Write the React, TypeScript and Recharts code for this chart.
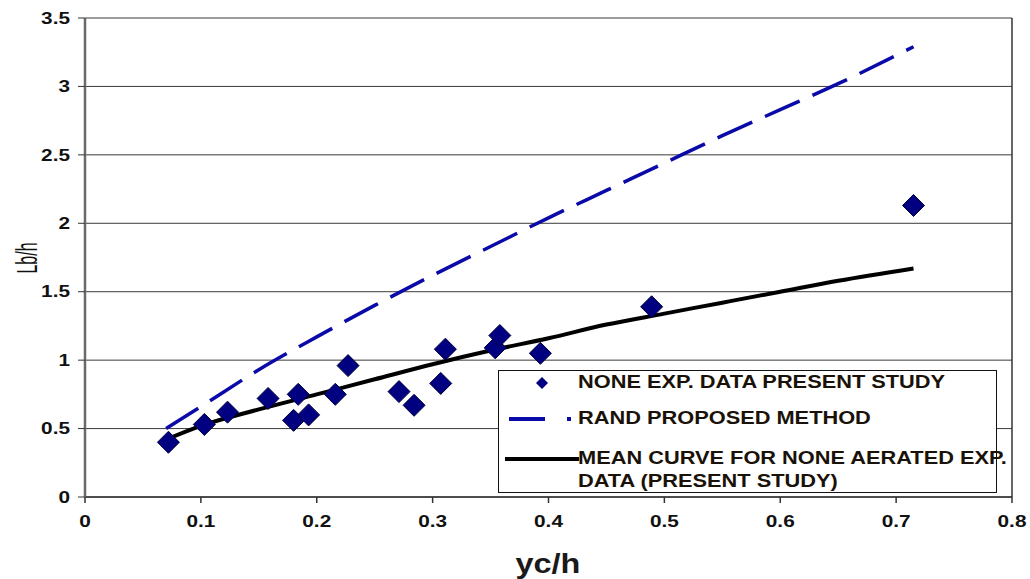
import React from 'react';
import { ComposedChart, Scatter, Line, XAxis, YAxis, CartesianGrid, ReferenceLine, Legend } from 'recharts';

const expX = [0.072, 0.103, 0.123, 0.158, 0.180, 0.184, 0.193, 0.216, 0.227, 0.271, 0.284, 0.307, 0.311, 0.354, 0.358, 0.393, 0.489, 0.715];
const expY = [0.40, 0.53, 0.62, 0.72, 0.56, 0.75, 0.60, 0.75, 0.96, 0.77, 0.67, 0.83, 1.08, 1.09, 1.18, 1.05, 1.39, 2.13];

// Rand proposed method (dashed blue)
const randX = [0.07, 0.1, 0.15, 0.2, 0.25, 0.3, 0.35, 0.4, 0.45, 0.5, 0.55, 0.6, 0.65, 0.715];
const randY = [0.50, 0.66, 0.93, 1.17, 1.40, 1.62, 1.83, 2.04, 2.24, 2.44, 2.64, 2.83, 3.02, 3.29];

// Mean curve for non-aerated experimental data (solid black)
const meanX = [0.07, 0.1, 0.15, 0.2, 0.25, 0.3, 0.35, 0.4, 0.45, 0.5, 0.55, 0.6, 0.65, 0.715];
const meanY = [0.42, 0.52, 0.64, 0.75, 0.86, 0.97, 1.07, 1.16, 1.26, 1.34, 1.42, 1.50, 1.58, 1.67];

const xTicks = [0, 0.1, 0.2, 0.3, 0.4, 0.5, 0.6, 0.7, 0.8];
const yTicks = [0, 0.5, 1, 1.5, 2, 2.5, 3, 3.5];

const expName = 'NONE EXP. DATA PRESENT STUDY';
const randName = 'RAND PROPOSED METHOD';
const meanName = 'MEAN CURVE FOR NONE AERATED EXP. DATA (PRESENT STUDY)';

const expData = expX.map((x, i) => ({ x, y: expY[i] }));
const randData = randX.map((x, i) => ({ x, y: randY[i] }));
const meanData = meanX.map((x, i) => ({ x, y: meanY[i] }));

const FONT = '"Liberation Sans", Arial, sans-serif';
const NAVY = '#000080';
const BLUE = '#0a0aa8';

const Diamond = (props: any) => {
  const { cx, cy } = props;
  const r = 11;
  return (
    <polygon
      points={`${cx},${cy - r} ${cx + r},${cy} ${cx},${cy + r} ${cx - r},${cy}`}
      fill={NAVY}
      stroke="#00003a"
      strokeWidth={1}
    />
  );
};

const XTick = (props: any) => {
  const { x, y, payload } = props;
  return (
    <text
      transform={`translate(${x},${y}) scale(1.3,1)`}
      textAnchor="middle"
      dy="0.75em"
      fontFamily={FONT}
      fontSize={16}
      fontWeight="bold"
      fill="#111"
    >
      {payload.value}
    </text>
  );
};

const YTick = (props: any) => {
  const { x, y, payload } = props;
  return (
    <text
      transform={`translate(${x},${y}) scale(1.3,1)`}
      textAnchor="end"
      dy="0.36em"
      fontFamily={FONT}
      fontSize={16}
      fontWeight="bold"
      fill="#111"
    >
      {payload.value}
    </text>
  );
};

const LegendBox = () => (
  <div
    style={{
      width: 499,
      height: 123,
      boxSizing: 'border-box',
      border: '1.5px solid #111',
      background: '#fff',
      fontFamily: FONT,
      fontWeight: 'bold',
      fontSize: 18,
      color: '#1a1208',
      position: 'relative',
    }}
  >
    <svg width={80} height={120} style={{ position: 'absolute', left: 0, top: 0 }}>
      <polygon points="43,6 49,12 43,18 37,12" fill={NAVY} />
      <line x1={10} y1={48} x2={46} y2={48} stroke={BLUE} strokeWidth={4} />
      <rect x={68} y={46} width={4} height={4} fill={BLUE} />
      <line x1={6} y1={88} x2={80} y2={88} stroke="#000" strokeWidth={4} />
    </svg>
    <div style={{ position: 'absolute', left: 79, top: 1, whiteSpace: 'nowrap', transform: 'scaleX(1.21)', transformOrigin: 'left top' }}>{expName}</div>
    <div style={{ position: 'absolute', left: 79, top: 37, whiteSpace: 'nowrap', transform: 'scaleX(1.21)', transformOrigin: 'left top' }}>{randName}</div>
    <div style={{ position: 'absolute', left: 79, top: 76, whiteSpace: 'nowrap', lineHeight: '23px', transform: 'scaleX(1.21)', transformOrigin: 'left top' }}>
      {'MEAN CURVE FOR NONE AERATED EXP.'}
      <br />
      {'DATA (PRESENT STUDY)'}
    </div>
  </div>
);

const YTitle = () => (
  <text
    transform="translate(26,258) rotate(-90) scale(1,1.9)"
    textAnchor="middle"
    dominantBaseline="central"
    fontFamily={FONT}
    fontSize={16}
    fill="#111"
  >
    Lb/h
  </text>
);

const XTitle = () => (
  <text
    transform="translate(548,573) scale(1.2,1)"
    textAnchor="middle"
    fontFamily={FONT}
    fontSize={27}
    fontWeight="bold"
    fill="#1a1a1a"
  >
    yc/h
  </text>
);

export default function App() {
  return (
    <div style={{ position: 'absolute', left: 0, top: 0, width: 1030, height: 579, background: '#fff' }}>
      <ComposedChart
        width={1030}
        height={579}
        margin={{ top: 18, right: 18, bottom: 0, left: 0 }}
        style={{ fontFamily: FONT }}
      >
        <CartesianGrid vertical={false} stroke="#3a3a3a" strokeWidth={1} />
        <XAxis
          type="number"
          dataKey="x"
          domain={[0, 0.8]}
          ticks={xTicks}
          height={82}
          tickSize={6}
          tickMargin={12}
          axisLine={{ stroke: '#333', strokeWidth: 1.5 }}
          tickLine={{ stroke: '#333', strokeWidth: 1.5 }}
          tick={<XTick />}
          allowDataOverflow
          label={{ content: () => <XTitle /> }}
        />
        <YAxis
          type="number"
          dataKey="y"
          domain={[0, 3.5]}
          ticks={yTicks}
          width={85}
          tickSize={7}
          tickMargin={8}
          axisLine={{ stroke: '#6a6a6a', strokeWidth: 2.5 }}
          tickLine={{ stroke: '#333', strokeWidth: 1 }}
          tick={<YTick />}
          allowDataOverflow
          label={{ content: () => <YTitle /> }}
        />
        <ReferenceLine x={0.8} stroke="#333" strokeWidth={1.5} ifOverflow="extendDomain" />
        <Line
          data={randData}
          dataKey="y"
          name={randName}
          type="monotone"
          stroke={BLUE}
          strokeWidth={3.5}
          strokeDasharray="38 14"
          dot={false}
          activeDot={false}
          isAnimationActive={false}
          legendType="plainline"
        />
        <Line
          data={meanData}
          dataKey="y"
          name={meanName}
          type="monotone"
          stroke="#000"
          strokeWidth={4}
          dot={false}
          activeDot={false}
          isAnimationActive={false}
          legendType="plainline"
        />
        <Scatter
          data={expData}
          dataKey="y"
          name={expName}
          shape={<Diamond />}
          isAnimationActive={false}
          legendType="diamond"
        />
        <Legend
          layout="horizontal"
          verticalAlign="middle"
          align="center"
          content={() => <LegendBox />}
          wrapperStyle={{ position: 'absolute', left: 498, top: 370, width: 499, height: 123 }}
        />
      </ComposedChart>
    </div>
  );
}
